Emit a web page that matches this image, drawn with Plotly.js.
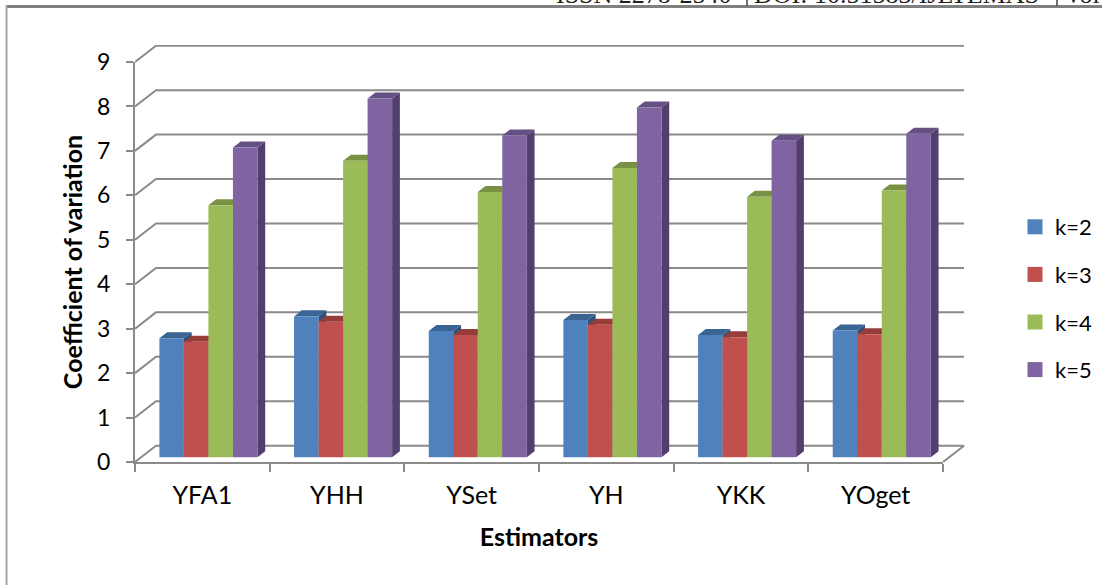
<!DOCTYPE html>
<html>
<head>
<meta charset="utf-8">
<script src="https://cdn.plot.ly/plotly-3.0.1.min.js"></script>
<style>html,body{margin:0;padding:0;background:#fff}#chart{width:1102px;height:585px}</style>
</head>
<body>
<div id="chart"></div>
<script>
// Coefficient of variation per estimator and sample group
const estimators = ['YFA1', 'YHH', 'YSet', 'YH', 'YKK', 'YOget'];
const k2 = [2.68, 3.17, 2.84, 3.09, 2.75, 2.85];
const k3 = [2.60, 3.05, 2.75, 2.98, 2.70, 2.77];
const k4 = [5.67, 6.67, 5.97, 6.51, 5.86, 6.00];
const k5 = [6.97, 8.07, 7.24, 7.87, 7.12, 7.28];
const seriesNames = ['k=2', 'k=3', 'k=4', 'k=5'];
const seriesValues = [k2, k3, k4, k5];
const frontColors = ['#4F81BD', '#C0504D', '#9BBB59', '#8064A2'];
const topColors = ['#3A6494', '#963D3A', '#789145', '#645082'];
const sideColors = ['#2F5179', '#7B302E', '#617538', '#523F6E'];
const yTicks = [0, 1, 2, 3, 4, 5, 6, 7, 8, 9];

// Front plot box and the larger box that also holds the receding back wall, in pixels
const W = 1102, H = 585, L = 135, R = 943, T = 62, B = 462, WALL_R = 965, WALL_T = 45;
const px = x => x / W;
const py = y => 1 - y / H;
const UNIT_X = (R - L) / estimators.length, UNIT_Y = (B - T) / 9;

// Oblique projection: one unit of depth moves a point right and up, in axis units
const DX = 21 / UNIT_X, DY = 16.3 / UNIT_Y;
const FRONT = 0.29, BACK = 0.66;
const BAR_W = 0.182;
const GRID = '#8A8A8A';

const project = (x, v, d) => [x + d * DX, v + d * DY];

function polyTrace(xs, ys, color) {
  return {
    type: 'scatter', mode: 'lines', x: xs, y: ys, fill: 'toself', fillcolor: color,
    line: {width: 0, color: color}, hoverinfo: 'skip', showlegend: false
  };
}

// Back wall gridlines and the floor outline
const gx = [], gy = [];
function addPath(points) {
  points.forEach(p => { gx.push(p[0]); gy.push(p[1]); });
  gx.push(null); gy.push(null);
}
yTicks.forEach(v => {
  const nCat = estimators.length;
  const pts = [project(0, v, 0), project(0, v, 1), project(nCat, v, 1)];
  if (v === 0) pts.push(project(nCat, v, 0));
  addPath(pts);
});
const traces = [{
  type: 'scatter', mode: 'lines', x: gx, y: gy, line: {color: GRID, width: 2},
  hoverinfo: 'skip', showlegend: false
}];

// Side and top faces, painted left to right
seriesValues.forEach((vals, s) => {
  const sx = [], sy = [], tx = [], ty = [];
  vals.forEach((v, i) => {
    const left = i + 0.5 + (s - 2) * BAR_W, right = left + BAR_W;
    [project(right, 0, FRONT), project(right, 0, BACK), project(right, v, BACK), project(right, v, FRONT), project(right, 0, FRONT)]
      .forEach(p => { sx.push(p[0]); sy.push(p[1]); });
    sx.push(null); sy.push(null);
    [project(left, v, FRONT), project(right, v, FRONT), project(right, v, BACK), project(left, v, BACK), project(left, v, FRONT)]
      .forEach(p => { tx.push(p[0]); ty.push(p[1]); });
    tx.push(null); ty.push(null);
  });
  traces.push(polyTrace(sx, sy, sideColors[s]));
  traces.push(polyTrace(tx, ty, topColors[s]));
});

// Front faces live on the visible axes, drawn after the wall subplot
seriesValues.forEach((vals, s) => {
  traces.push({
    type: 'bar', xaxis: 'x2', yaxis: 'y2', name: seriesNames[s], showlegend: false,
    x: vals.map((_, i) => i + 0.5 + (s - 1.5) * BAR_W + FRONT * DX),
    y: vals, base: vals.map(() => FRONT * DY), width: BAR_W,
    marker: {color: frontColors[s], line: {width: 0}},
    hovertemplate: '%{y}<extra>' + seriesNames[s] + '</extra>'
  });
});

// Legend entries with square swatches, on the axis that carries the category labels
seriesNames.forEach((name, s) => {
  traces.push({
    type: 'scatter', mode: 'markers', xaxis: 'x3', yaxis: 'y2', x: [null], y: [null],
    name: name, legendgroup: name,
    marker: {symbol: 'square', size: 15, color: frontColors[s]}, hoverinfo: 'skip'
  });
});

const font = 'Lato, Carlito, sans-serif';
const serif = {family: 'Liberation Serif', size: 26, color: '#222'};
const headerNote = (x, text) => ({
  xref: 'paper', yref: 'paper', x: px(x), y: py(9.5), xanchor: 'left', yanchor: 'bottom',
  showarrow: false, text: text, font: serif, borderpad: 0
});
const frameLine = (x0, y0, x1, y1, color, width) => ({
  type: 'line', xref: 'paper', yref: 'paper', x0: px(x0), x1: px(x1), y0: py(y0), y1: py(y1),
  line: {color: color, width: width}
});

const layout = {
  width: W, height: H, autosize: false,
  paper_bgcolor: '#fff', plot_bgcolor: 'rgba(0,0,0,0)',
  margin: {l: 0, r: 0, t: 0, b: 0, pad: 0},
  font: {family: font, color: '#000'},
  barmode: 'overlay',
  // Hidden axes spanning the wall, with the same pixels per unit as the visible ones
  xaxis: {
    domain: [L / W, WALL_R / W], range: [0, (WALL_R - L) / UNIT_X], visible: false,
    showgrid: false, zeroline: false, anchor: 'y'
  },
  yaxis: {
    domain: [1 - B / H, 1 - WALL_T / H], range: [0, (B - WALL_T) / UNIT_Y], visible: false,
    showgrid: false, zeroline: false, anchor: 'x'
  },
  xaxis2: {
    domain: [L / W, R / W], anchor: 'y2', range: [0, 6], tickmode: 'array', tickvals: [0, 1, 2, 3, 4, 5, 6],
    ticks: 'outside', ticklen: 8, tickwidth: 2, tickcolor: GRID, showticklabels: false,
    showgrid: false, zeroline: false, showline: true, linecolor: GRID, linewidth: 2
  },
  yaxis2: {
    domain: [1 - B / H, 1 - T / H], anchor: 'x2', range: [0, 9], tickmode: 'array', tickvals: yTicks,
    ticks: 'outside', ticklen: 7, tickwidth: 2, tickcolor: GRID,
    tickfont: {size: 23, family: font}, ticklabelstandoff: 11,
    showgrid: false, zeroline: false, showline: true, linecolor: GRID, linewidth: 2,
    title: {text: '<b>Coefficient of variation</b>', font: {size: 25, family: font}, standoff: 7}
  },
  xaxis3: {
    overlaying: 'x2', anchor: 'y2', range: [0, 6], tickmode: 'array',
    tickvals: estimators.map((_, i) => i + 0.5), ticktext: estimators,
    ticks: '', ticklabelstandoff: 16, tickfont: {size: 25, family: font},
    showgrid: false, zeroline: false, showline: false, side: 'bottom',
    title: {text: '<b>Estimators</b>', font: {size: 25, family: font}, standoff: 20}
  },
  legend: {
    x: 1015 / W, y: 1 - 206 / H, xanchor: 'left', yanchor: 'top', bgcolor: 'rgba(0,0,0,0)',
    tracegroupgap: 16, font: {size: 22, family: font, color: '#000'}, itemsizing: 'trace',
    itemclick: false, itemdoubleclick: false
  },
  shapes: [
    frameLine(6, 6.5, 1102, 6.5, '#808080', 3),
    frameLine(6.5, 5, 6.5, 585, '#A6A6A6', 2),
    frameLine(747, 0, 747, 6, '#444', 1.5),
    frameLine(1057, 0, 1057, 6, '#444', 1.5)
  ],
  annotations: [
    headerNote(555, 'ISSN 2278-2540'),
    headerNote(753, 'DOI: 10.51583/IJLTEMAS'),
    headerNote(1063, 'Vol')
  ]
};

Plotly.newPlot('chart', traces, layout, {displayModeBar: false, responsive: false});
</script>
</body>
</html>
